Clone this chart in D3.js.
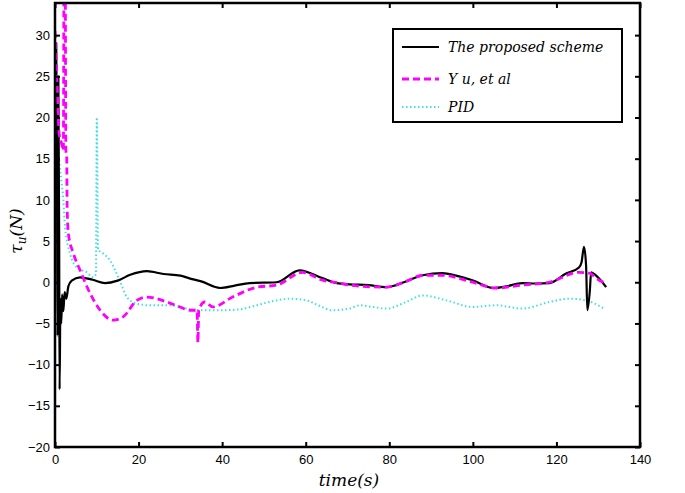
<!DOCTYPE html>
<html>
<head>
<meta charset="utf-8">
<script src="https://cdn.jsdelivr.net/npm/d3@7"></script>
<style>
  html, body { margin: 0; padding: 0; background: #fff; }
  svg { display: block; }
  .tick text { font-family: "Liberation Sans", Arial, sans-serif; font-size: 13px; fill: #000; }
  .math { font-family: "DejaVu Serif", "Liberation Serif", serif; font-style: italic; fill: #000; }
</style>
</head>
<body>
<svg id="chart" width="685" height="493"></svg>
<script>
// ---------- data ----------
const xTicks = [0, 20, 40, 60, 80, 100, 120, 140];
const yTicks = [-20, -15, -10, -5, 0, 5, 10, 15, 20, 25, 30];

const seriesNames = ["The proposed scheme", "Y u, et al", "PID"];

const proposedT = [0, 0.3, 0.5, 0.6, 0.8, 1.0, 1.1, 1.3, 1.5, 1.7, 2.0, 2.3, 2.7, 3.2, 4, 6, 9, 12, 15, 18, 22, 26, 30, 32, 35, 39.5, 43, 46.6, 53, 58.5, 64, 67.4, 70.5, 75, 79.3, 84, 88, 92.7, 96, 99.9, 105, 108, 111.8, 115, 118.3, 122.3, 125.4, 126, 126.6, 127.1, 127.4, 128, 128.3, 129.5, 131.9];
const proposedV = [28, 29, 10, -6.5, 25, 5, -13, -2, -5, -1.5, -3.5, -1.2, -2, -0.5, 0.2, 0.6, 0.3, -0.1, 0.2, 0.9, 1.35, 1.0, 0.8, 0.5, 0.1, -0.7, -0.4, -0.1, 0, 1.45, 0.5, -0.1, -0.25, -0.35, -0.6, 0.1, 0.85, 1.1, 0.8, 0.25, -0.7, -0.5, -0.1, -0.15, -0.1, 1.05, 1.8, 2.4, 4.3, 2, -3.4, -1, 1.2, 0.8, -0.6];

const yuT = [0, 0.5, 1, 1.5, 2.0, 2.2, 2.4, 2.6, 2.8, 2.9, 3.2, 4.4, 6, 8.4, 10.8, 13.9, 16.3, 19.6, 22, 26.8, 29.9, 32.3, 34.0, 34.2, 34.4, 35.8, 37.8, 42.5, 48.3, 53, 59.3, 64, 68, 70.5, 79.3, 84, 88, 92.7, 99.9, 105.6, 111.8, 118.3, 125.4, 127.8, 130.2, 131.9];
const yuV = [30.5, 24, 18, 17, 16, 45, 45, 16, 15.2, 9.1, 5.9, 3.5, 1.45, -1.35, -3.4, -4.6, -4.2, -2.2, -1.8, -2.4, -3.0, -3.4, -3.4, -7.3, -3.4, -2.4, -3.0, -1.8, -0.6, -0.35, 1.2, 0.25, -0.1, -0.35, -0.6, 0.1, 0.85, 0.85, 0, -0.7, -0.35, 0, 1.2, 1.1, 0.25, -0.1];

const pidT = [0, 0.5, 1.0, 1.5, 2.0, 2.4, 3.6, 5.2, 7.6, 9.1, 9.8, 10.0, 10.3, 11.5, 13.1, 15.5, 17.2, 19.6, 22.7, 27.5, 34, 40, 44, 48.3, 52, 56.2, 60.2, 63, 66.4, 70.5, 72.9, 76, 79.3, 84, 88, 93.7, 99.9, 105.6, 111.8, 118.3, 123, 127, 131.4];
const pidV = [26, 22, 15, 12.5, 10, 6.7, 3.5, 1.8, 1.2, 0.6, 1.0, 20, 4, 3.5, 2.7, 0.2, -1.8, -2.6, -2.8, -2.8, -3.4, -3.4, -3.3, -2.8, -2.3, -2.0, -2.2, -2.8, -3.4, -3.2, -2.8, -3.0, -3.2, -2.4, -1.6, -2.2, -3.0, -2.8, -3.2, -2.4, -2.0, -2.2, -3.2];

// ---------- layout ----------
const svg = d3.select("#chart");
const L = 55, R = 640, T = 3, B = 447;
const x = d3.scaleLinear().domain([0, 140]).range([L, R]);
const y = d3.scaleLinear().domain([-20, 33.9]).range([B, T]);

svg.append("defs").append("clipPath").attr("id", "plotclip")
  .append("rect").attr("x", L).attr("y", T).attr("width", R - L).attr("height", B - T);

const zip = (ts, vs) => ts.map((t, i) => [t, vs[i]]);
const line = d3.line().x(d => x(d[0])).y(d => y(d[1])).curve(d3.curveMonotoneX);

const plot = svg.append("g").attr("clip-path", "url(#plotclip)");

const series = [
  { name: seriesNames[0], data: zip(proposedT, proposedV), color: "#000000", width: 2.2, dash: null },
  { name: seriesNames[1], data: zip(yuT, yuV), color: "#ff00ff", width: 2.8, dash: "7,4" },
  { name: seriesNames[2], data: zip(pidT, pidV), color: "#40e0e0", width: 2, dash: "1.5,2.5" }
];

[series[2], series[0], series[1]].forEach(s => {
  plot.append("path").datum(s.data)
    .attr("fill", "none").attr("stroke", s.color)
    .attr("stroke-width", s.width)
    .attr("stroke-dasharray", s.dash)
    .attr("stroke-linejoin", "round")
    .attr("d", line);
});

// ---------- axes ----------
const axB = svg.append("g").attr("transform", `translate(0,${B})`)
  .call(d3.axisBottom(x).tickValues(xTicks).tickSizeInner(-5).tickSizeOuter(0).tickPadding(8));
const axT = svg.append("g").attr("transform", `translate(0,${T})`)
  .call(d3.axisTop(x).tickValues(xTicks).tickSizeInner(-5).tickSizeOuter(0).tickFormat(""));
const axL = svg.append("g").attr("transform", `translate(${L},0)`)
  .call(d3.axisLeft(y).tickValues(yTicks).tickSizeInner(-5).tickSizeOuter(0).tickPadding(5));
const axR = svg.append("g").attr("transform", `translate(${R},0)`)
  .call(d3.axisRight(y).tickValues(yTicks).tickSizeInner(-5).tickSizeOuter(0).tickFormat(""));
[axB, axT, axL, axR].forEach(a => {
  a.select(".domain").remove();
  a.selectAll(".tick line").attr("stroke", "#000").attr("stroke-width", 2);
});
axB.selectAll(".tick text").attr("dy", "0.71em");

svg.append("rect").attr("x", L).attr("y", T).attr("width", R - L).attr("height", B - T)
  .attr("fill", "none").attr("stroke", "#000").attr("stroke-width", 2.5);

// axis labels
svg.append("text").attr("class", "math")
  .attr("x", 349).attr("y", 486).attr("text-anchor", "middle").attr("font-size", 17)
  .text("time(s)");

const yl = svg.append("text").attr("class", "math")
  .attr("transform", `translate(22,${(T + B) / 2 + 6}) rotate(-90)`)
  .attr("text-anchor", "middle").attr("font-size", 17);
yl.append("tspan").text("τ");
yl.append("tspan").attr("font-size", 12).attr("dy", 4).text("u");
yl.append("tspan").attr("dy", -4).text("(N)");

// ---------- legend ----------
const lg = svg.append("g");
lg.append("rect").attr("x", 393).attr("y", 29).attr("width", 229).attr("height", 93)
  .attr("fill", "#fff").attr("stroke", "#000").attr("stroke-width", 2);
const ly = [47, 79, 107];
series.forEach((s, i) => {
  lg.append("line").attr("x1", 402).attr("x2", 439).attr("y1", ly[i]).attr("y2", ly[i])
    .attr("stroke", s.color).attr("stroke-width", s.width).attr("stroke-dasharray", s.dash);
  lg.append("text").attr("class", "math").attr("x", 448).attr("y", ly[i] + 5)
    .attr("font-size", 14).text(s.name);
});
</script>
</body>
</html>
